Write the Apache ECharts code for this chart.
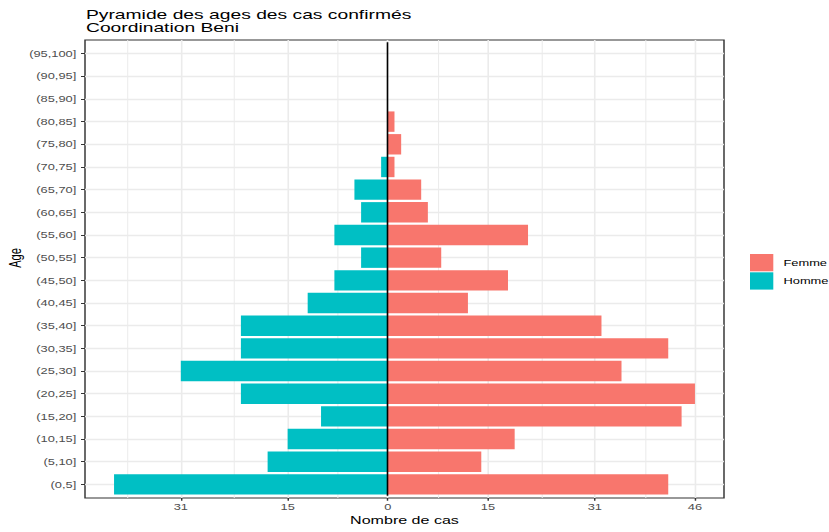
<!DOCTYPE html>
<html>
<head>
<meta charset="utf-8">
<script src="https://cdn.jsdelivr.net/npm/echarts@6/dist/echarts.min.js"></script>
<style>
html,body{margin:0;padding:0;overflow:hidden;background:#fff;width:829px;height:532px;}
#chart{width:568px;height:532px;transform:scaleX(1.459507);transform-origin:0 0;}
</style>
</head>
<body>
<div id="chart"></div>
<script>
// ---- data ----
const ageGroups = ['(0,5]','(5,10]','(10,15]','(15,20]','(20,25]','(25,30]','(30,35]','(35,40]','(40,45]','(45,50]','(50,55]','(55,60]','(60,65]','(65,70]','(70,75]','(75,80]','(80,85]','(85,90]','(90,95]','(95,100]'];
const femmeValues = [42,14,19,44,46,35,42,32,12,18,8,21,6,5,1,2,1,0,0,0];
const hommeValues = [41,18,15,10,22,31,22,22,12,8,4,8,4,5,1,0,0,0,0,0];
const xTickValues = [-31,-15,0,15,31,46];
const xMinorValues = [-39,-23,-7.5,7.5,23,38.5];
const xRange = [-45.35, 50.35];
const yRange = [-0.6, 19.6];

// ---- layout (reference image is horizontally stretched; chart drawn at 568 wide and scaled) ----
const S = 829 / 568;
const px = x => x / S;
const FONT = '"Liberation Sans", Arial, Helvetica, sans-serif';
const panelTop = 40, panelBottom = 498;
const step = (panelBottom - panelTop) / (yRange[1] - yRange[0]);
const tickIdx = ageGroups.map((_, i) => i);

const chart = echarts.init(document.getElementById('chart'), null, {renderer: 'svg'});
chart.setOption({
  animation: false,
  backgroundColor: '#fff',
  title: {
    text: 'Pyramide des ages des cas confirmés\nCoordination Beni',
    left: px(86), top: 7, padding: 0,
    textStyle: {fontFamily: FONT, fontSize: 13.2, fontWeight: 'normal', color: '#000', lineHeight: 13.4}
  },
  legend: {
    data: ['Femme', 'Homme'],
    orient: 'vertical', left: px(750), top: 254, padding: 0,
    itemWidth: px(773.3) - px(750), itemHeight: 17.3, itemGap: 1, icon: 'rect',
    selectedMode: false,
    textStyle: {fontFamily: FONT, fontSize: 8.8, color: '#000', padding: [0, 0, 0, 2]}
  },
  grid: [
    {left: px(85), right: 568 - px(724), top: panelTop, bottom: 532 - panelBottom,
     outerBoundsMode: 'none', containLabel: false,
     show: true, borderColor: '#333333', borderWidth: 1, backgroundColor: 'rgba(0,0,0,0)'},
    {left: px(85), right: 568 - px(724), top: panelTop + 0.1 * step, bottom: 532 - panelBottom + 0.1 * step,
     outerBoundsMode: 'none', containLabel: false}
  ],
  xAxis: [
    {gridIndex: 0, type: 'value', position: 'bottom', min: xRange[0], max: xRange[1],
     axisLine: {show: false, onZero: false},
     axisTick: {show: true, customValues: xTickValues, length: 2.75, lineStyle: {color: '#333333', width: 1}},
     axisLabel: {customValues: xTickValues, formatter: v => String(Math.abs(v)), margin: 4,
                 fontFamily: FONT, fontSize: 8.8, color: '#4d4d4d'},
     splitLine: {show: true, lineStyle: {color: '#ebebeb', width: 1.1}},
     name: 'Nombre de cas', nameLocation: 'middle', nameGap: 16.5, nameMoveOverlap: false,
     nameTextStyle: {fontFamily: FONT, fontSize: 11, color: '#000'}},
    {gridIndex: 0, type: 'value', position: 'top', min: xRange[0], max: xRange[1],
     axisLine: {show: false, onZero: false}, axisTick: {show: false, customValues: xMinorValues},
     axisLabel: {show: false}, splitLine: {show: true, lineStyle: {color: '#ebebeb', width: 0.7}}},
    {gridIndex: 1, type: 'value', min: xRange[0], max: xRange[1], show: false,
     axisLine: {onZero: false}}
  ],
  yAxis: [
    {gridIndex: 0, type: 'value', position: 'left', min: yRange[0], max: yRange[1],
     axisLine: {show: false, onZero: false},
     axisTick: {show: true, customValues: tickIdx, length: 2.75, lineStyle: {color: '#333333', width: 1}},
     axisLabel: {customValues: tickIdx, formatter: v => ageGroups[Math.round(v)], margin: 6,
                 fontFamily: FONT, fontSize: 8.8, color: '#4d4d4d'},
     splitLine: {show: true, lineStyle: {color: '#ebebeb', width: 1.3}},
     name: 'Age', nameLocation: 'middle', nameGap: 42, nameMoveOverlap: false,
     nameTextStyle: {fontFamily: FONT, fontSize: 11, color: '#000', padding: [0, 0, 0, 22]}},
    {gridIndex: 1, type: 'category', data: ageGroups, show: false, axisLine: {onZero: false}}
  ],
  series: [
    {name: 'Femme', type: 'bar', xAxisIndex: 2, yAxisIndex: 1, stack: 'pyr', barCategoryGap: '10%',
     data: femmeValues, itemStyle: {color: '#F8766D'},
     markLine: {silent: true, symbol: ['none', 'none'], label: {show: false}, z: 10,
                lineStyle: {color: '#000', width: 1.1, type: 'solid'}, data: [{xAxis: 0}]}},
    {name: 'Homme', type: 'bar', xAxisIndex: 2, yAxisIndex: 1, stack: 'pyr', barCategoryGap: '10%',
     data: hommeValues.map(v => -v), itemStyle: {color: '#00BFC4'}}
  ]
});
</script>
</body>
</html>
